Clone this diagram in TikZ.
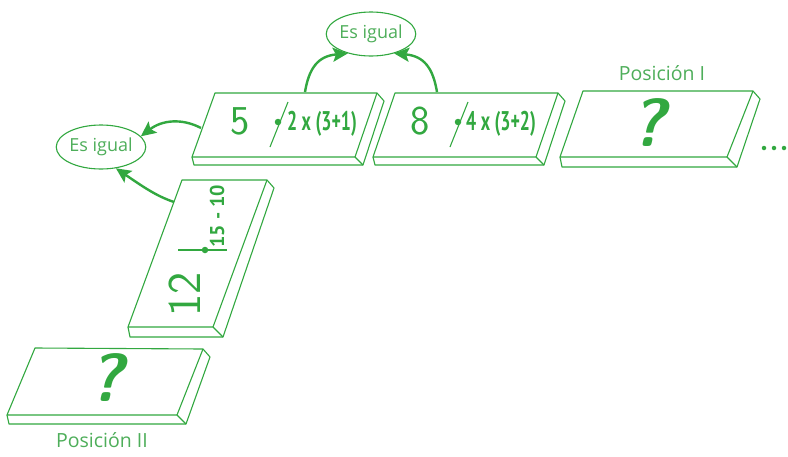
\documentclass[tikz,border=0pt]{standalone}
\usepackage{fontspec}
\usepackage{graphicx}
\usetikzlibrary{shapes.geometric,arrows.meta,calc}
\newfontfamily\labelfont{Open Sans}
\newfontfamily\exprfont{PT Sans}
\definecolor{tilegreen}{RGB}{50,168,64}
\definecolor{textgreen}{RGB}{78,174,90}
\tikzset{
  tileline/.style={draw=tilegreen,line width=1.1pt,line join=round},
  bubble/.style={ellipse,draw=tilegreen,line width=1.1pt,minimum width=88pt,minimum height=44pt,inner sep=0pt,
    text=textgreen,font=\labelfont\fontsize{18}{18}\selectfont},
  bigdigit/.style={text=tilegreen,font=\sffamily\fontsize{41}{41}\selectfont,inner sep=0pt},
  expr/.style={text=tilegreen,font=\exprfont\bfseries\fontsize{27}{27}\selectfont,inner sep=0pt},
  qmark/.style={text=tilegreen,font=\sffamily\bfseries\itshape\fontsize{68}{68}\selectfont,inner sep=0pt},
  poslabel/.style={text=textgreen,font=\labelfont\fontsize{19.5}{19.5}\selectfont,inner sep=0pt},
  divider/.style={draw=tilegreen,line width=1.1pt},
  pip/.style={circle,fill=tilegreen,inner sep=0pt,minimum size=6.5pt},
  linkarrow/.style={draw=tilegreen,line width=2.4pt,-{Stealth[length=15pt,width=14pt,inset=3pt]}},
  dotmark/.style={circle,fill=tilegreen,inner sep=0pt,minimum size=4.5pt}
}
\newcommand{\domino}[6]{% name, TL, TR, BR, BL, thickness
  \coordinate (#1tl) at #2; \coordinate (#1tr) at #3;
  \coordinate (#1br) at #4; \coordinate (#1bl) at #5;
  \draw[tileline] (#1tl)--(#1tr)--(#1br)--(#1bl)--cycle;
  \draw[tileline] (#1bl) -- ++(2,#6) -- ($(#1br)+(#6,#6)$) -- ($(#1tr)+(7,8)$) -- (#1tr);
  \draw[tileline] (#1br) -- ++(#6,#6);
}
\begin{document}
\begin{tikzpicture}[x=1pt,y=-1pt]
\useasboundingbox[fill=white] (0,0) rectangle (788,456);

% tiles
\domino{a}{(215,93)}{(377,93)}{(355,157)}{(192,157)}{8}
\domino{b}{(395,93)}{(558,93)}{(536,157)}{(373,157)}{8}
\domino{c}{(583,91)}{(753,91)}{(727,157)}{(560,157)}{10}
\domino{v}{(182,180)}{(267,180)}{(213,327)}{(128,327)}{10}
\domino{d}{(35,348)}{(203,349)}{(177,415)}{(7,415)}{9}

% tile a
\node[bigdigit] (five) at (240,121) {5};
\coordinate (adt) at (288,102); \coordinate (adb) at (270,147);
\draw[divider] (adt) -- (adb);
\node[pip] (apip) at (278,122) {};
\node[expr] (aexpr) at (322,124) {\scalebox{0.66}[1]{2 x (3+1)}};

% tile b
\node[bigdigit] (eight) at (420,121) {8};
\coordinate (bdt) at (468,102); \coordinate (bdb) at (450,147);
\draw[divider] (bdt) -- (bdb);
\node[pip] (bpip) at (458,122) {};
\node[expr] (bexpr) at (501,124) {\scalebox{0.66}[1]{4 x (3+2)}};

% tile c
\node[qmark] (qc) at (648,123) {?};
\node[poslabel] (posI) at (662,73) {Posición I};
\node[dotmark] (d1) at (764,148) {};
\node[dotmark] (d2) at (774,148) {};
\node[dotmark] (d3) at (784,148) {};

% vertical tile
\node[bigdigit,rotate=90,font=\sffamily\fontsize{47}{47}\selectfont] (twelve) at (185,294) {12};
\coordinate (vdl) at (178,250); \coordinate (vdr) at (227,250);
\draw[divider] (vdl) -- (vdr);
\node[pip] (vpip) at (205,250) {};
\node[expr,rotate=90,font=\exprfont\bfseries\fontsize{20}{20}\selectfont] (vexpr) at (217,216) {15 - 10};

% bottom tile
\node[qmark] (qd) at (106,378) {?};
\node[poslabel] (posII) at (102,440) {Posición II};

% bubbles
\node[bubble] (eqtop) at (371,34) {Es igual};
\node[bubble] (eqleft) at (101,147) {Es igual};

% arrows
\coordinate (t1) at (305,92);
\coordinate (t2) at (437,92);
\coordinate (t3) at (201,128);
\coordinate (t4) at (174,202);
\draw[linkarrow] (t1) .. controls (309,68) and (318,56) .. (eqtop.-140);
\draw[linkarrow] (t2) .. controls (433,68) and (424,56) .. (eqtop.-40);
\draw[linkarrow] (t3) .. controls (182,118) and (162,120) .. (eqleft.15);
\draw[linkarrow] (t4) .. controls (156,196) and (142,186) .. (eqleft.-55);
\end{tikzpicture}
\end{document}
